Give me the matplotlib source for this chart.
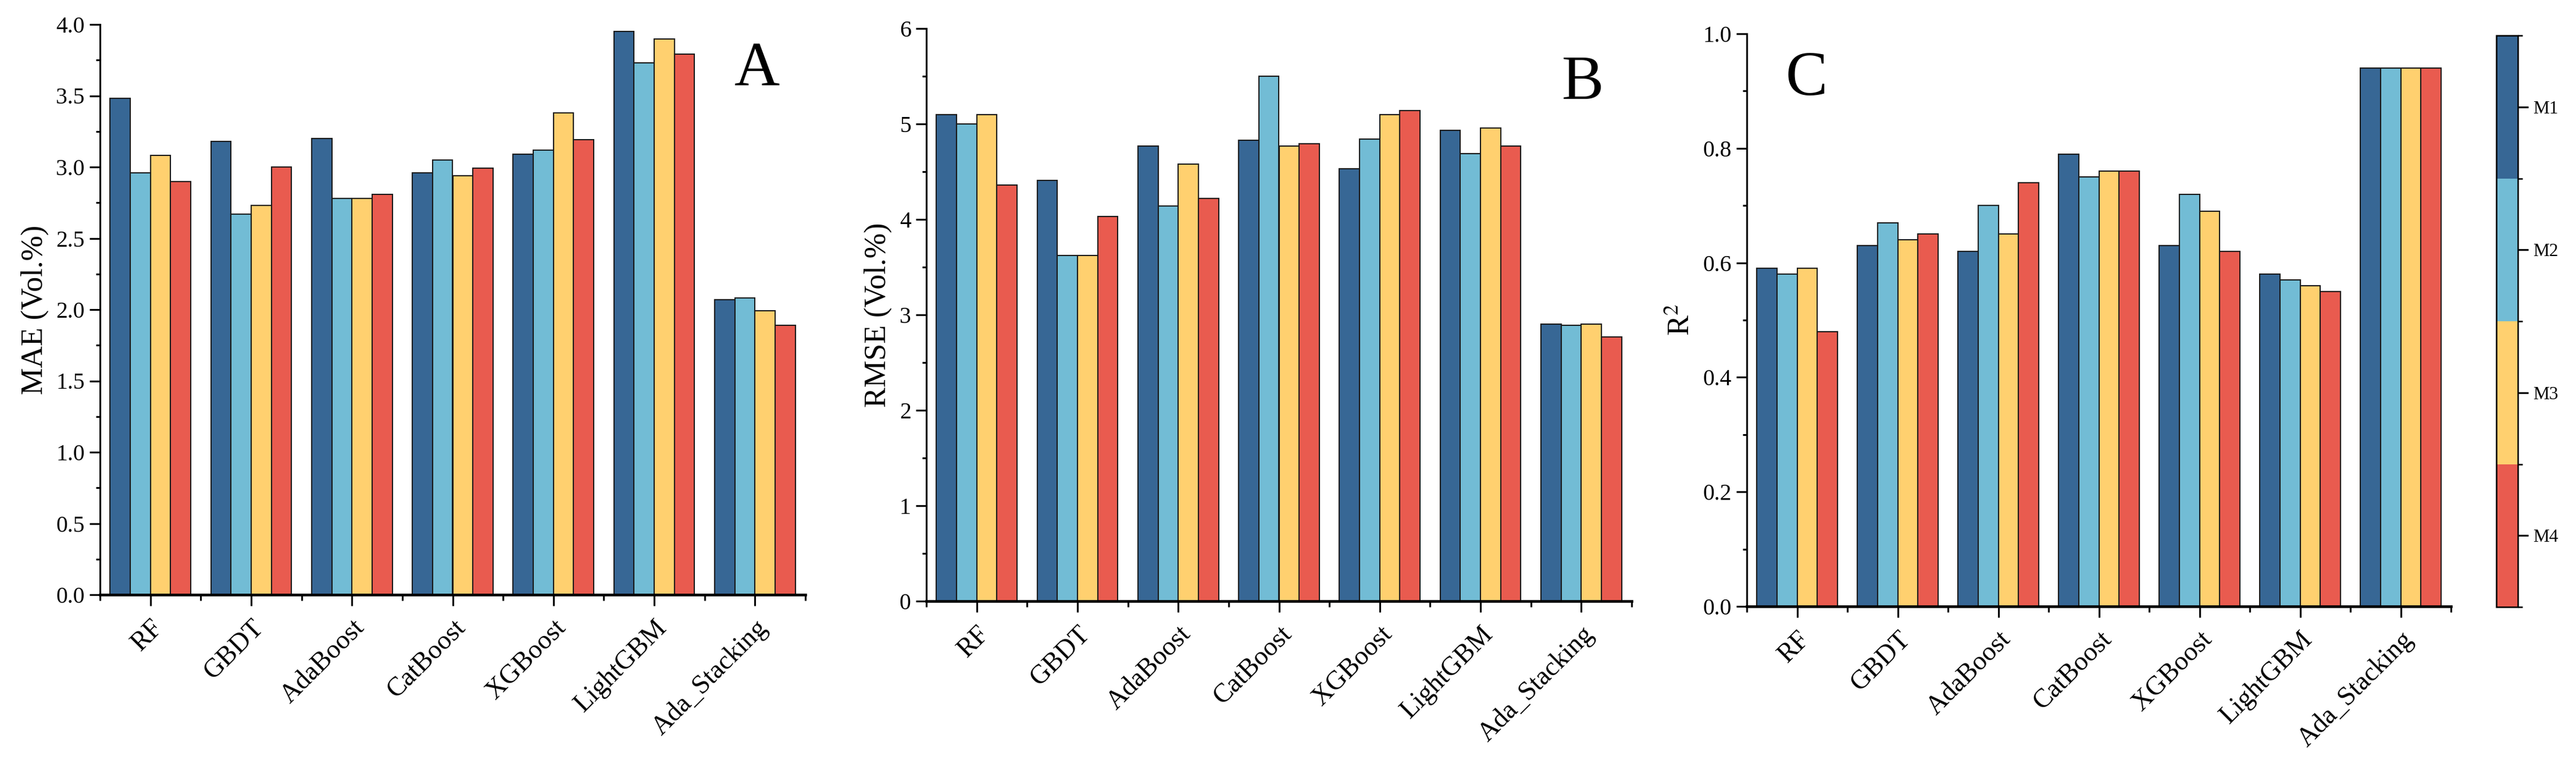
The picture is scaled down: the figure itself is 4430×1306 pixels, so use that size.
"""Three-panel grouped bar chart: MAE, RMSE and R2 of seven models for M1-M4."""

import matplotlib

matplotlib.use("Agg")

import matplotlib.pyplot as plt
import numpy as np
from matplotlib.colors import BoundaryNorm, ListedColormap
from matplotlib.colorbar import ColorbarBase
from matplotlib.ticker import MultipleLocator, FixedLocator, FormatStrFormatter

models = ["RF", "GBDT", "AdaBoost", "CatBoost", "XGBoost", "LightGBM", "Ada_Stacking"]
series = ["M1", "M2", "M3", "M4"]
colors = ["#376795", "#72BCD5", "#FFD06F", "#E95B4F"]

mae_m1 = [3.48, 3.18, 3.20, 2.96, 3.09, 3.95, 2.07]
mae_m2 = [2.96, 2.67, 2.78, 3.05, 3.12, 3.73, 2.08]
mae_m3 = [3.08, 2.73, 2.78, 2.94, 3.38, 3.90, 1.99]
mae_m4 = [2.90, 3.00, 2.81, 2.99, 3.19, 3.79, 1.89]

rmse_m1 = [5.10, 4.41, 4.77, 4.83, 4.53, 4.93, 2.90]
rmse_m2 = [5.00, 3.62, 4.14, 5.50, 4.84, 4.69, 2.89]
rmse_m3 = [5.10, 3.62, 4.58, 4.77, 5.10, 4.96, 2.90]
rmse_m4 = [4.36, 4.03, 4.22, 4.79, 5.14, 4.77, 2.77]

r2_m1 = [0.59, 0.63, 0.62, 0.79, 0.63, 0.58, 0.94]
r2_m2 = [0.58, 0.67, 0.70, 0.75, 0.72, 0.57, 0.94]
r2_m3 = [0.59, 0.64, 0.65, 0.76, 0.69, 0.56, 0.94]
r2_m4 = [0.48, 0.65, 0.74, 0.76, 0.62, 0.55, 0.94]

plt.rcParams["font.family"] = ["Liberation Serif", "DejaVu Serif"]
plt.rcParams["mathtext.fontset"] = "stix"

W, H = 4430, 1306
DPI = 300


def box(x0, y0, x1, y1):
    """Pixel box (top-left origin) to figure fraction rect."""
    return [x0 / W, 1 - y1 / H, (x1 - x0) / W, (y1 - y0) / H]


def bar_panel(ax, values, ymax, major, minor, fmt, ylabel, letter, letter_xy):
    x = np.arange(len(models))
    width = 0.2
    for k, (vals, col) in enumerate(zip(values, colors)):
        ax.bar(x + (k - 1.5) * width, vals, width, color=col,
               edgecolor="#1a1a1a", linewidth=0.5, zorder=2)
    ax.set_xlim(-0.5, len(models) - 0.5)
    ax.set_ylim(0, ymax)
    ax.yaxis.set_major_locator(MultipleLocator(major))
    ax.yaxis.set_minor_locator(MultipleLocator(minor))
    ax.yaxis.set_major_formatter(FormatStrFormatter(fmt))
    ax.set_xticks(x)
    ax.xaxis.set_minor_locator(FixedLocator(np.arange(-0.5, len(models), 1.0)))
    ax.set_xticklabels(models, rotation=45, ha="right", rotation_mode="anchor",
                       fontsize=11)
    ax.tick_params(axis="y", which="major", length=4.3, width=0.75,
                   labelsize=9.5, pad=2)
    ax.tick_params(axis="y", which="minor", length=1.8, width=0.75)
    ax.tick_params(axis="x", which="major", length=4.5, width=0.75, pad=4)
    ax.tick_params(axis="x", which="minor", length=2.4, width=0.75)
    for side in ("top", "right"):
        ax.spines[side].set_visible(False)
    ax.spines["left"].set_linewidth(0.75)
    ax.spines["bottom"].set_linewidth(1.1)
    ax.set_ylabel(ylabel, fontsize=12.5, labelpad=3)
    fig = ax.figure
    fig.text(letter_xy[0] / W, 1 - letter_xy[1] / H, letter, fontsize=26,
             ha="center", va="baseline")


fig = plt.figure(figsize=(W / DPI, H / DPI), dpi=DPI)

ax_a = fig.add_axes(box(172, 42, 1385, 1022))
bar_panel(ax_a, [mae_m1, mae_m2, mae_m3, mae_m4], 4.0, 0.5, 0.25, "%.1f",
          "MAE (Vol.%)", "A", (1302, 147))

ax_b = fig.add_axes(box(1593, 49, 2806, 1033))
bar_panel(ax_b, [rmse_m1, rmse_m2, rmse_m3, rmse_m4], 6, 1, 0.5, "%d",
          "RMSE (Vol.%)", "B", (2722, 170))

ax_c = fig.add_axes(box(3004, 58, 4215, 1042))
bar_panel(ax_c, [r2_m1, r2_m2, r2_m3, r2_m4], 1.0, 0.2, 0.1, "%.1f",
          "R$^2$", "C", (3107, 163))

# colour key drawn as a discrete colourbar
cax = fig.add_axes(box(4293, 61, 4330, 1043))
cmap = ListedColormap(colors[::-1])
norm = BoundaryNorm(np.arange(len(series) + 1), cmap.N)
cb = ColorbarBase(cax, cmap=cmap, norm=norm, orientation="vertical")
cb.set_ticks(np.arange(len(series)) + 0.5)
cb.set_ticklabels(series[::-1])
cb.outline.set_linewidth(0.6)
cax.tick_params(length=4.3, width=0.75, labelsize=7.5, pad=2)

fig.savefig("out.png", dpi=DPI)
